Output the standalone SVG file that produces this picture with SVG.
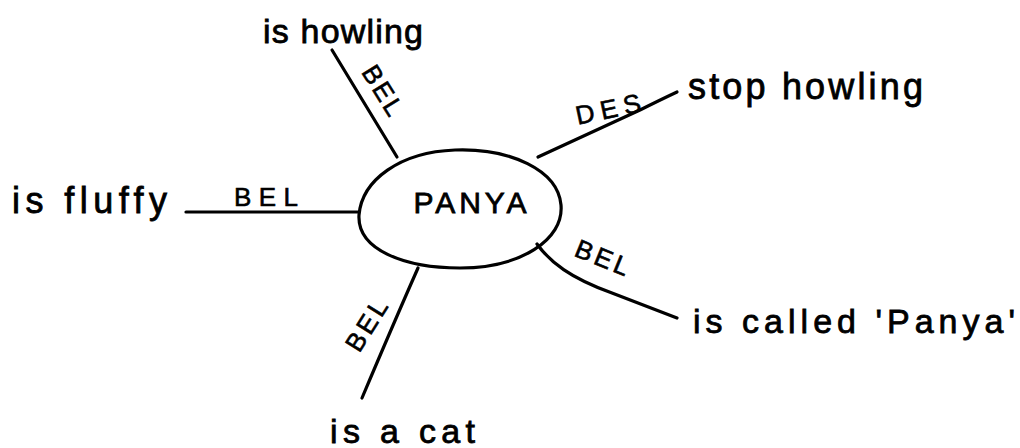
<svg xmlns="http://www.w3.org/2000/svg" width="1020" height="448" viewBox="0 0 1020 448">
<style>
.ln{fill:none;stroke:#000;stroke-width:3.2;stroke-linecap:round;stroke-linejoin:round}
.t{font-family:"Liberation Sans","DejaVu Sans",sans-serif;fill:#000;stroke:#000;stroke-width:0.8}
.lbl{font-family:"Liberation Sans","DejaVu Sans",sans-serif;font-size:26px;fill:#000;stroke:#000;stroke-width:0.6;text-anchor:middle}
</style>
<rect width="1020" height="448" fill="#fff"/>
<g id="connectors">
<path class="ln" d="M332,50 L397,157"/>
<path class="ln" d="M538,157 L640,110 Q660,100 677,92"/>
<path class="ln" d="M186,212 L358,212"/>
<path class="ln" d="M418,268 Q395,320 362,398"/>
<path class="ln" d="M537,244 C550,262 570,278 612,293 L677,318"/>
<text class="lbl" transform="translate(375,95) rotate(58)" textLength="54">BEL</text>
<text class="lbl" transform="translate(610,118) rotate(-12)" textLength="66">DES</text>
<text class="lbl" x="266" y="206" textLength="64">BEL</text>
<text class="lbl" transform="translate(374,330) rotate(-58)" textLength="56">BEL</text>
<text class="lbl" transform="translate(599,266) rotate(22)" textLength="56">BEL</text>
</g>
<g id="panya">
<path class="ln" d="M359,215 C362,180 400,152 455,150 C510,148 558,170 561,205 C564,240 520,268 460,268 C405,268 357,250 359,215 Z"/>
<text class="t" x="470" y="213" font-size="30" text-anchor="middle" textLength="113">PANYA</text>
</g>
<g id="is-howling"><text class="t" x="263" y="43" font-size="34" textLength="160">is howling</text></g>
<g id="stop-howling"><text class="t" x="688" y="99" font-size="36" textLength="235">stop howling</text></g>
<g id="is-fluffy"><text class="t" x="12" y="213" font-size="36" textLength="155">is fluffy</text></g>
<g id="is-a-cat"><text class="t" x="330" y="443" font-size="34" textLength="145">is a cat</text></g>
<g id="is-called"><text class="t" x="693" y="333" font-size="34" textLength="322">is called 'Panya'</text></g>
</svg>
